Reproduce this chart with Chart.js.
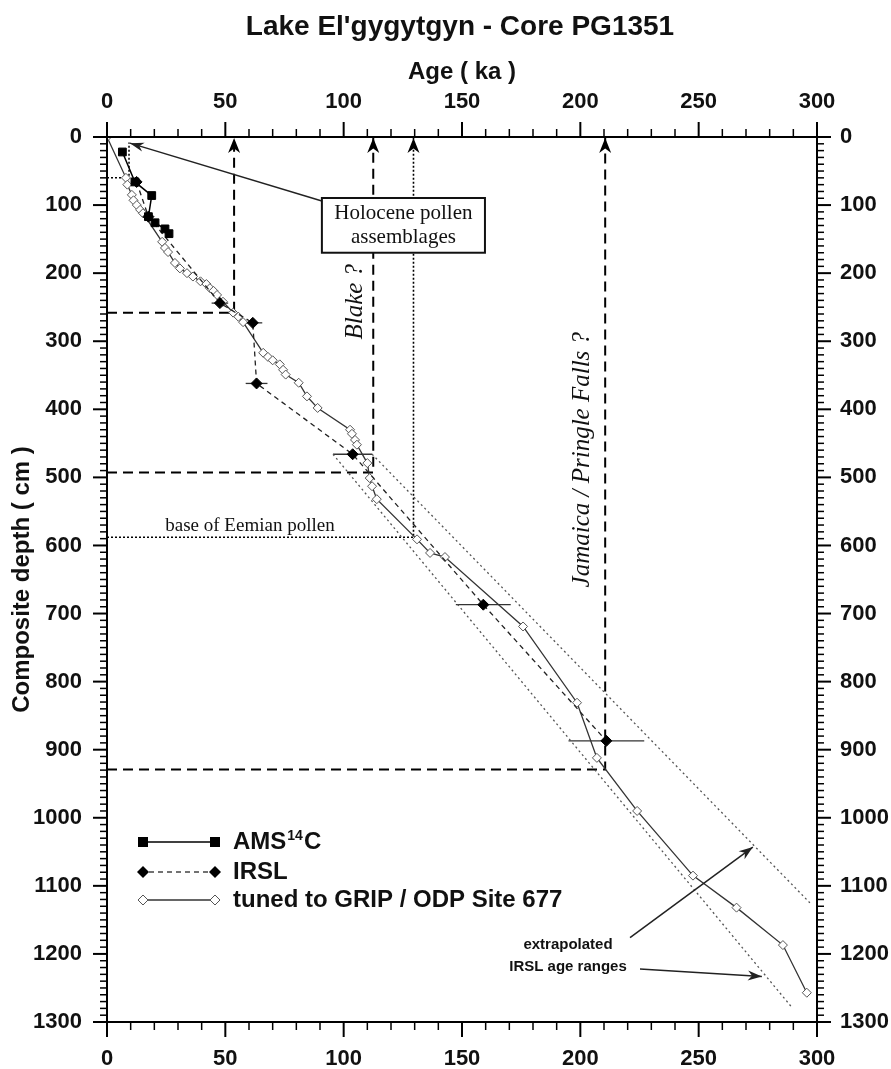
<!DOCTYPE html>
<html>
<head>
<meta charset="utf-8">
<title>Lake El'gygytgyn - Core PG1351</title>
<script src="https://cdn.jsdelivr.net/npm/chart.js@4.4.1/dist/chart.umd.min.js"></script>
<style>
  html, body { margin: 0; padding: 0; background: #fff; }
  #wrap { width: 891px; height: 1069px; }
</style>
</head>
<body>
<div id="wrap"><canvas id="c" width="891" height="1069"></canvas></div>
<script>
// ---- age (ka) / composite depth (cm) data, core PG1351 ----
const amsAge   = [6.5, 11.8, 18.9, 17.5, 20.3, 24.5, 26.2];
const amsDepth = [22, 66, 86, 117, 126, 135, 142];

const irslAge   = [12.5, 17.5, 47.7, 61.6, 63.2, 103.8, 159.0, 211.0];
const irslDepth = [66, 117, 244, 273, 362, 466, 687, 887];
const irslError = [0, 0, 3.5, 4.0, 4.6, 8.3, 11.6, 16.0];

const tunedAge = [0, 8.0, 8.6, 10.5, 11.2, 12.6, 14.0, 15.2, 23.3, 24.5, 25.8, 28.7, 30.8,
  33.8, 36.3, 39.5, 42.0, 43.5, 45.0, 46.5, 49.0, 53.3, 55.5, 57.5, 66.0, 68.0, 70.0, 73.0,
  74.4, 75.5, 81.0, 84.5, 89.0, 102.7, 103.5, 104.8, 105.6, 110.0, 111.0, 112.0, 114.0,
  131.0, 136.5, 142.8, 175.8, 198.6, 207.0, 224.0, 247.6, 266.0, 285.6, 295.7];
const tunedDepth = [0, 60, 70, 85, 93, 100, 107, 112, 154, 163, 169, 185, 193,
  200, 205, 212, 216, 222, 226, 232, 242, 258, 264, 272, 317, 323, 328, 334,
  342, 349, 361, 381, 398, 430, 436, 445, 452, 479, 501, 513, 532,
  591, 611, 617, 719, 831, 912, 990, 1085, 1132, 1187, 1257];

// extrapolated IRSL age ranges (envelope lines)
const rangeLowAge = [95.5, 289.5],  rangeLowDepth = [466, 1279];
const rangeHighAge = [112.0, 297.0], rangeHighDepth = [466, 1125];

// marker horizons: depth on the curve and the corresponding age
const tieAge   = [53.7, 112.5, 129.5, 210.5];
const tieDepth = [258, 493, 588, 929];
const tieDotted = [false, false, true, false];
const holoAge = 9.3, holoDepth = 60;

// tick labels
const ageTicks   = [0, 50, 100, 150, 200, 250, 300];
const depthTicks = [0, 100, 200, 300, 400, 500, 600, 700, 800, 900, 1000, 1100, 1200, 1300];

const SANS  = "'Liberation Sans', Arial, sans-serif";
const SERIF = "'Liberation Serif', 'Times New Roman', serif";

const pts = (xs, ys) => xs.map((x, i) => ({ x, y: ys[i] }));

const refLine = (data, dash, width, color) => ({
  data, showLine: true, pointRadius: 0, borderColor: color || '#000',
  borderWidth: width, borderDash: dash, fill: false, order: 10, tension: 0
});

const datasets = [
  {
    label: 'tuned to GRIP / ODP Site 677',
    data: pts(tunedAge, tunedDepth), showLine: true, tension: 0,
    borderColor: '#333', borderWidth: 1.3,
    pointStyle: 'rectRot', pointRadius: 4.5, pointBackgroundColor: '#fff',
    pointBorderColor: '#555', pointBorderWidth: 1, order: 3
  },
  {
    label: 'IRSL',
    data: pts(irslAge, irslDepth), showLine: true, tension: 0,
    borderColor: '#222', borderWidth: 1.3, borderDash: [5, 4],
    pointStyle: 'rectRot', pointRadius: 5.5, pointBackgroundColor: '#000',
    pointBorderColor: '#000', pointBorderWidth: 1, order: 2
  },
  {
    label: 'AMS14C',
    data: pts(amsAge, amsDepth), showLine: true, tension: 0,
    borderColor: '#000', borderWidth: 1.5,
    pointStyle: 'rect', pointRadius: 5.5, pointBackgroundColor: '#000',
    pointBorderColor: '#000', pointBorderWidth: 1, order: 1
  },
  refLine(pts(rangeLowAge, rangeLowDepth), [2, 3], 1.3, '#555'),
  refLine(pts(rangeHighAge, rangeHighDepth), [2, 3], 1.3, '#555'),
  refLine([{ x: 0, y: holoDepth }, { x: holoAge, y: holoDepth }, { x: holoAge, y: 8 }], [2, 2], 1.5)
];
tieAge.forEach((a, i) => {
  const d = tieDepth[i];
  datasets.push(refLine([{ x: 0, y: d }, { x: a, y: d }, { x: a, y: 0 }],
    tieDotted[i] ? [2, 2] : [10, 6], tieDotted[i] ? 1.6 : 2));
});

function arrowHead(ctx, x1, y1, x2, y2, len, half) {
  const ang = Math.atan2(y2 - y1, x2 - x1), c = Math.cos(ang), s = Math.sin(ang);
  ctx.beginPath();
  ctx.moveTo(x2, y2);
  ctx.lineTo(x2 - len * c + half * s, y2 - len * s - half * c);
  ctx.lineTo(x2 - len * 0.7 * c, y2 - len * 0.7 * s);
  ctx.lineTo(x2 - len * c - half * s, y2 - len * s + half * c);
  ctx.closePath();
  ctx.fill();
}

function seg(ctx, x1, y1, x2, y2) {
  ctx.beginPath(); ctx.moveTo(x1, y1); ctx.lineTo(x2, y2); ctx.stroke();
}

const decorations = {
  id: 'decorations',
  beforeDatasetsDraw(chart) {
    const { ctx, scales } = chart;
    const X = v => scales.x.getPixelForValue(v), Y = v => scales.y.getPixelForValue(v);
    // IRSL error bars
    ctx.save();
    ctx.strokeStyle = '#333'; ctx.lineWidth = 1.3;
    irslAge.forEach((a, i) => {
      const e = irslError[i];
      if (e > 0) seg(ctx, X(a - e), Y(irslDepth[i]), X(a + e), Y(irslDepth[i]));
    });
    ctx.restore();
  },
  afterDraw(chart) {
    const { ctx, chartArea: A, scales } = chart;
    const X = v => scales.x.getPixelForValue(v), Y = v => scales.y.getPixelForValue(v);
    ctx.save();

    // axis frame
    ctx.strokeStyle = '#000'; ctx.lineWidth = 2;
    ctx.strokeRect(A.left, A.top, A.right - A.left, A.bottom - A.top);

    // tick marks
    for (let v = 0; v <= 300; v += 10) {
      const major = v % 50 === 0, len = major ? 15 : 8, px = X(v);
      ctx.lineWidth = major ? 2 : 1.5;
      seg(ctx, px, A.bottom, px, A.bottom + len);
      seg(ctx, px, A.top, px, A.top - len);
    }
    for (let v = 0; v <= 1300; v += 10) {
      const major = v % 100 === 0, len = major ? 14 : 7, py = Y(v);
      ctx.lineWidth = major ? 2 : 1.5;
      seg(ctx, A.left, py, A.left - len, py);
      seg(ctx, A.right, py, A.right + len, py);
    }

    // arrows on the marker horizons
    ctx.fillStyle = '#000';
    tieAge.forEach(a => arrowHead(ctx, X(a), A.top + 30, X(a), A.top + 1, 15, 6));

    // titles
    ctx.fillStyle = '#111';
    ctx.textAlign = 'center'; ctx.textBaseline = 'middle';
    ctx.font = 'bold 28px ' + SANS;
    ctx.fillText("Lake El'gygytgyn - Core PG1351", 460, 27);
    ctx.font = 'bold 24px ' + SANS;
    ctx.fillText('Age ( ka )', 462, 72);
    ctx.save();
    ctx.translate(22, (A.top + A.bottom) / 2);
    ctx.rotate(-Math.PI / 2);
    ctx.fillText('Composite depth ( cm )', 0, 0);
    ctx.restore();

    // Holocene pollen box and arrow
    ctx.strokeStyle = '#222'; ctx.lineWidth = 1.5; ctx.fillStyle = '#222';
    seg(ctx, X(90.8), Y(94), X(9.7), Y(9));
    arrowHead(ctx, X(90.8), Y(94), X(9.7), Y(9), 14, 4.5);
    const bx1 = X(90.8), bx2 = X(159.7), by1 = Y(89.6), by2 = Y(170);
    ctx.fillStyle = '#fff';
    ctx.fillRect(bx1, by1, bx2 - bx1, by2 - by1);
    ctx.lineWidth = 2; ctx.strokeStyle = '#111';
    ctx.strokeRect(bx1, by1, bx2 - bx1, by2 - by1);
    ctx.fillStyle = '#111';
    ctx.font = '21px ' + SERIF;
    ctx.fillText('Holocene pollen', (bx1 + bx2) / 2, Y(112));
    ctx.fillText('assemblages', (bx1 + bx2) / 2, Y(148));

    // base of Eemian pollen
    ctx.font = '19px ' + SERIF;
    ctx.fillText('base of Eemian pollen', X(60.4), Y(571));

    // magnetic excursions
    ctx.font = 'italic 25px ' + SERIF;
    [['Blake ?', 104.8, 242], ['Jamaica / Pringle Falls ?', 201, 474]].forEach(([t, a, d]) => {
      ctx.save();
      ctx.translate(X(a), Y(d));
      ctx.rotate(-Math.PI / 2);
      ctx.fillText(t, 0, 0);
      ctx.restore();
    });

    // extrapolated IRSL age ranges
    ctx.font = 'bold 15px ' + SANS;
    ctx.fillText('extrapolated', X(194.8), Y(1186.5));
    ctx.fillText('IRSL age ranges', X(194.8), Y(1219.5));
    ctx.strokeStyle = '#222'; ctx.fillStyle = '#222'; ctx.lineWidth = 1.5;
    [[221, 1176, 272.9, 1043], [225.2, 1222, 276.7, 1233]].forEach(([a1, d1, a2, d2]) => {
      seg(ctx, X(a1), Y(d1), X(a2), Y(d2));
      arrowHead(ctx, X(a1), Y(d1), X(a2), Y(d2), 14, 5);
    });

    // legend
    const lx1 = A.left + 36, lx2 = A.left + 108, tx = A.left + 126;
    const rows = [A.top + 705, A.top + 735, A.top + 763];
    ctx.textAlign = 'left';
    // AMS 14C
    ctx.setLineDash([]); ctx.strokeStyle = '#000'; ctx.lineWidth = 1.5; ctx.fillStyle = '#000';
    seg(ctx, lx1, rows[0], lx2, rows[0]);
    [lx1, lx2].forEach(x => ctx.fillRect(x - 5, rows[0] - 5, 10, 10));
    // IRSL
    ctx.setLineDash([5, 4]); ctx.strokeStyle = '#444'; ctx.lineWidth = 1.3;
    seg(ctx, lx1 + 6, rows[1], lx2 - 6, rows[1]);
    ctx.setLineDash([]);
    [lx1, lx2].forEach(x => {
      ctx.beginPath();
      ctx.moveTo(x, rows[1] - 6); ctx.lineTo(x + 6, rows[1]); ctx.lineTo(x, rows[1] + 6); ctx.lineTo(x - 6, rows[1]);
      ctx.closePath(); ctx.fill();
    });
    // tuned
    ctx.strokeStyle = '#333'; ctx.lineWidth = 1.3;
    seg(ctx, lx1, rows[2], lx2, rows[2]);
    [lx1, lx2].forEach(x => {
      ctx.beginPath();
      ctx.moveTo(x, rows[2] - 5); ctx.lineTo(x + 5, rows[2]); ctx.lineTo(x, rows[2] + 5); ctx.lineTo(x - 5, rows[2]);
      ctx.closePath(); ctx.fillStyle = '#fff'; ctx.fill(); ctx.strokeStyle = '#555'; ctx.lineWidth = 1; ctx.stroke();
    });
    ctx.fillStyle = '#111';
    ctx.font = 'bold 24px ' + SANS;
    ctx.fillText('AMS', tx, rows[0]);
    let w = ctx.measureText('AMS').width;
    ctx.font = 'bold 14px ' + SANS;
    ctx.fillText('14', tx + w + 1, rows[0] - 6);
    const w2 = ctx.measureText('14').width;
    ctx.font = 'bold 24px ' + SANS;
    ctx.fillText('C', tx + w + w2 + 2, rows[0]);
    ctx.fillText('IRSL', tx, rows[1]);
    ctx.fillText('tuned to GRIP / ODP Site 677', tx, rows[2]);

    ctx.restore();
  }
};

const tickFont = { family: SANS, size: 22, weight: 'bold' };
const axis = (pos, lo, hi, ticks, size, pad, extra) => Object.assign({
  type: 'linear', position: pos, min: lo, max: hi,
  grid: { display: false, drawTicks: false },
  border: { display: false },
  ticks: { font: tickFont, color: '#111', padding: pad, autoSkip: false, maxRotation: 0,
           callback: v => String(v) },
  afterBuildTicks: s => { s.ticks = ticks.map(v => ({ value: v })); },
  afterFit: s => { if (pos === 'top' || pos === 'bottom') s.height = size; else s.width = size; }
}, extra || {});

new Chart(document.getElementById('c'), {
  type: 'scatter',
  data: { datasets },
  options: {
    responsive: false, animation: false,
    layout: { padding: 0 },
    plugins: { legend: { display: false }, tooltip: { enabled: false }, title: { display: false } },
    scales: {
      x:  axis('bottom', 0, 300, ageTicks, 47, 24),
      x2: axis('top', 0, 300, ageTicks, 137, 22),
      y:  axis('left', 0, 1300, depthTicks, 107, 25, { reverse: true }),
      y2: axis('right', 0, 1300, depthTicks, 74, 23, { reverse: true })
    }
  },
  plugins: [decorations]
});
</script>
</body>
</html>
